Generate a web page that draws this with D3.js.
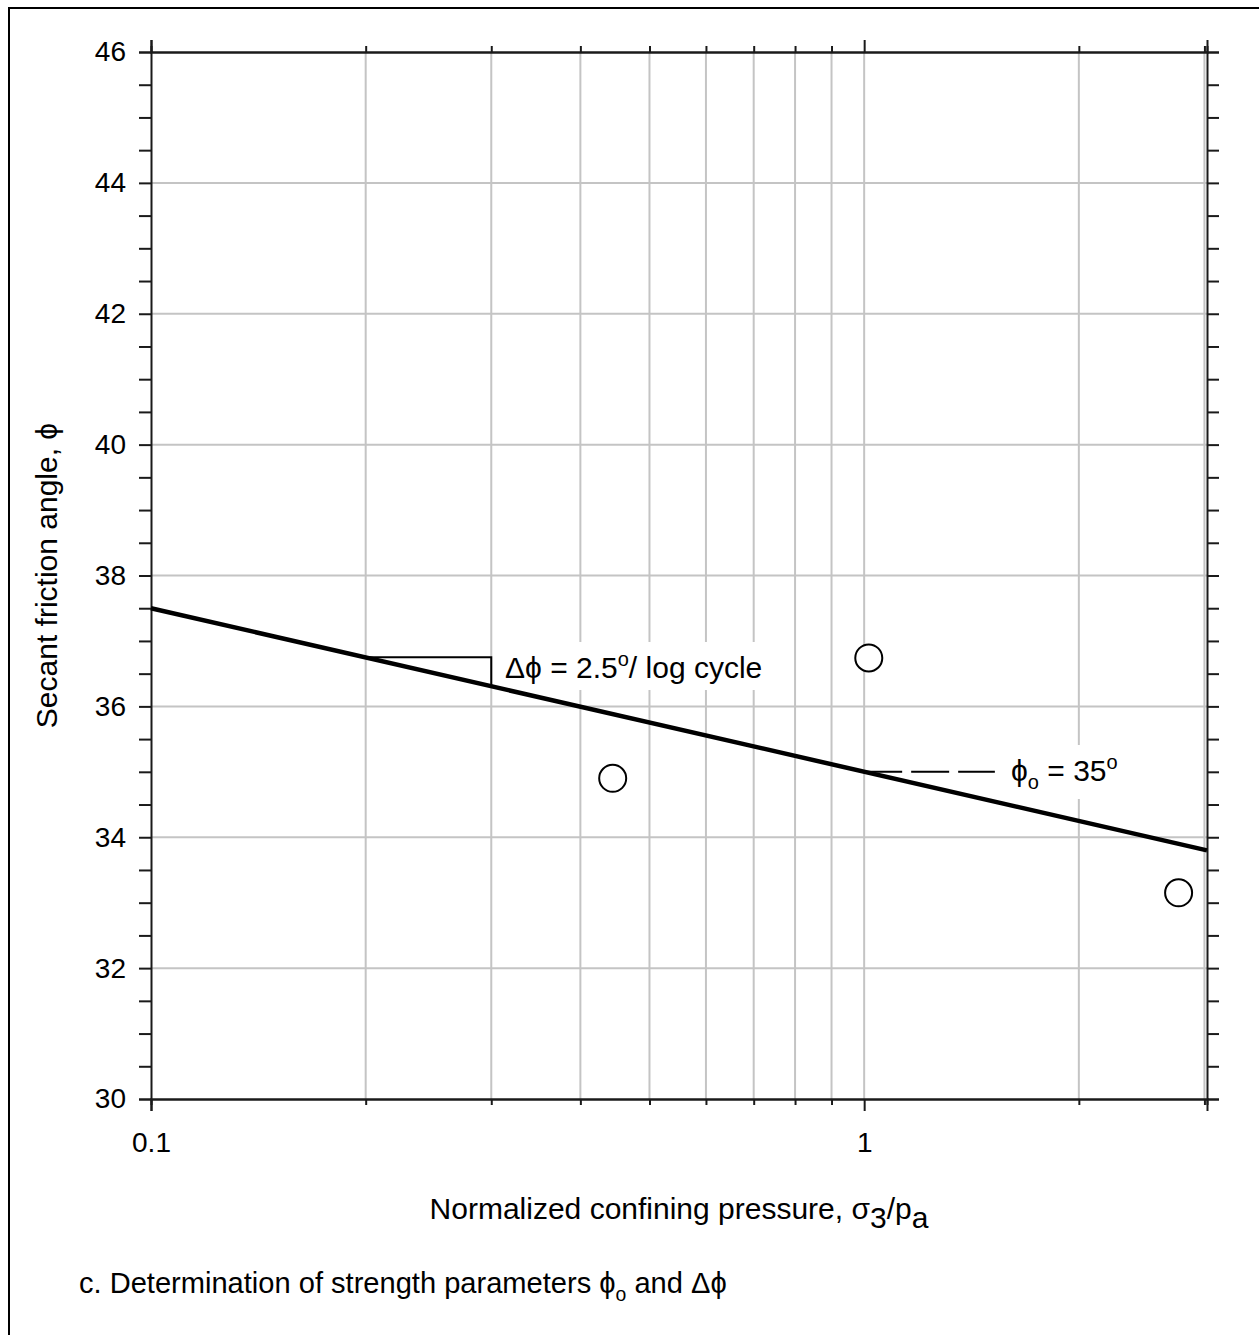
<!DOCTYPE html>
<html>
<head>
<meta charset="utf-8">
<script src="https://cdn.jsdelivr.net/npm/d3@7"></script>
<style>
  html, body { margin: 0; padding: 0; background: #fff; }
  svg { display: block; }
  text { font-family: "Liberation Sans", Arial, sans-serif; fill: #000; }
</style>
</head>
<body>
<svg id="chart" width="1259" height="1335"></svg>
<script>
// Measured points: normalized confining pressure and secant friction angle
const pressures = [0.444, 1.015, 2.76];
const angles = [34.90, 36.74, 33.15];

// Strength parameters of the fitted line
const phi0 = 35;      // friction angle at sigma3/pa = 1
const deltaPhi = 2.5; // drop per log cycle

// Fitted line end points and the slope triangle (pressure, angle)
const fitPressures = [0.1, 3.025];
const fitAngles = [37.5, 33.80];
const trianglePressures = [0.2, 0.3, 0.3];
const triangleAngles = [36.75, 36.75, 36.31];
// Dashed leader from the fitted line at phi0
const leaderPressures = [1, 1.525];

// Axis ticks
const xMajorTicks = [0.1, 1];
const xMinorTicks = [0.2, 0.3, 0.4, 0.5, 0.6, 0.7, 0.8, 0.9, 2, 3];
const xGridTicks = [0.2, 0.3, 0.4, 0.5, 0.6, 0.7, 0.8, 0.9, 1, 2, 3];
const yLabelTicks = [30, 32, 34, 36, 38, 40, 42, 44, 46];
const yAllTicks = d3.range(30, 46.001, 0.5);
const yGridTicks = [32, 34, 36, 38, 40, 42, 44];

const svg = d3.select("#chart");
const W = 1259, H = 1335;
const m = { left: 151, top: 52, right: 1207, bottom: 1099 };
const FS = 30;

// Page frame (left and top edges)
svg.append("line").attr("x1", 9).attr("x2", 9).attr("y1", 7).attr("y2", H)
  .attr("stroke", "#000").attr("stroke-width", 2);
svg.append("line").attr("x1", 8).attr("x2", W).attr("y1", 8).attr("y2", 8)
  .attr("stroke", "#000").attr("stroke-width", 2);

const x = d3.scaleLog().domain([0.1, 3.025]).range([m.left, m.right]);
const y = d3.scaleLinear().domain([30, 46]).range([m.bottom, m.top]);

// Grid
const grid = svg.append("g").attr("stroke", "#c4c4c4").attr("stroke-width", 2);
grid.selectAll("line.v").data(xGridTicks).join("line")
  .attr("x1", d => x(d)).attr("x2", d => x(d))
  .attr("y1", m.top).attr("y2", m.bottom);
grid.selectAll("line.h").data(yGridTicks).join("line")
  .attr("x1", m.left).attr("x2", m.right)
  .attr("y1", d => y(d)).attr("y2", d => y(d));

function styleAxis(g) {
  g.select(".domain").attr("stroke", "#1a1a1a").attr("stroke-width", 2);
  g.selectAll(".tick line").attr("stroke", "#1a1a1a").attr("stroke-width", 2);
  g.selectAll(".tick text").attr("font-size", 28).attr("font-family", "Liberation Sans, Arial, sans-serif").attr("fill", "#000");
}

// Left axis
svg.append("g").attr("transform", `translate(${m.left},0)`)
  .call(d3.axisLeft(y).tickValues(yAllTicks).tickSize(12).tickPadding(13)
    .tickFormat(d => yLabelTicks.includes(d) ? d3.format("d")(d) : ""))
  .call(styleAxis);
// Right axis
svg.append("g").attr("transform", `translate(${m.right},0)`)
  .call(d3.axisRight(y).tickValues(yAllTicks).tickSize(12).tickFormat(""))
  .call(styleAxis);
// Bottom axis
svg.append("g").attr("transform", `translate(0,${m.bottom})`)
  .call(d3.axisBottom(x).tickValues(xMinorTicks).tickSize(6).tickFormat(""))
  .call(styleAxis);
svg.append("g").attr("transform", `translate(0,${m.bottom})`)
  .call(d3.axisBottom(x).tickValues(xMajorTicks).tickSize(12).tickPadding(21)
    .tickFormat(d => d === 1 ? "1" : "0.1"))
  .call(styleAxis);
// Top axis
svg.append("g").attr("transform", `translate(0,${m.top})`)
  .call(d3.axisTop(x).tickValues(xMinorTicks).tickSize(6).tickFormat(""))
  .call(styleAxis);
svg.append("g").attr("transform", `translate(0,${m.top})`)
  .call(d3.axisTop(x).tickValues(xMajorTicks).tickSize(12).tickFormat(""))
  .call(styleAxis);

// Text label with a white backing box
function boxedLabel(px, py, build, pad) {
  const g = svg.append("g");
  const rect = g.append("rect").attr("fill", "#fff");
  const t = g.append("text").attr("x", px).attr("y", py).attr("font-size", FS);
  build(t);
  const b = t.node().getBBox();
  rect.attr("x", b.x - pad[0]).attr("y", b.y - pad[1])
    .attr("width", b.width + 2 * pad[0]).attr("height", b.height + 2 * pad[1]);
  return g;
}

const pathLine = d3.line().x(d => x(d[0])).y(d => y(d[1]));

// Slope triangle
svg.append("path")
  .datum(trianglePressures.map((p, i) => [p, triangleAngles[i]]))
  .attr("d", pathLine).attr("fill", "none").attr("stroke", "#000").attr("stroke-width", 2);

// Dashed leader at phi0
svg.append("path")
  .datum(leaderPressures.map(p => [p, phi0]))
  .attr("d", pathLine).attr("fill", "none")
  .attr("stroke", "#000").attr("stroke-width", 2).attr("stroke-dasharray", "38,9");

// Labels
boxedLabel(505, 678, t => {
  t.append("tspan").text("Δϕ = " + deltaPhi);
  t.append("tspan").attr("font-size", 20).attr("dy", -12).text("o");
  t.append("tspan").attr("dy", 12).text("/ log cycle");
}, [8, 6]);

boxedLabel(1011, 781, t => {
  t.append("tspan").text("ϕ");
  t.append("tspan").attr("font-size", 20).attr("dy", 8).text("o");
  t.append("tspan").attr("dy", -8).text(" = " + phi0);
  t.append("tspan").attr("font-size", 20).attr("dy", -12).text("o");
}, [8, 6]);

// Fitted line
svg.append("path")
  .datum(fitPressures.map((p, i) => [p, fitAngles[i]]))
  .attr("d", pathLine).attr("fill", "none").attr("stroke", "#000").attr("stroke-width", 4.5);

// Data points
svg.selectAll("circle.pt").data(pressures.map((p, i) => [p, angles[i]])).join("circle")
  .attr("cx", d => x(d[0])).attr("cy", d => y(d[1])).attr("r", 13.5)
  .attr("fill", "#fff").attr("stroke", "#000").attr("stroke-width", 2);

// Axis titles
const xt = svg.append("text").attr("x", (m.left + m.right) / 2).attr("y", 1219)
  .attr("text-anchor", "middle").attr("font-size", FS);
xt.append("tspan").text("Normalized confining pressure, σ");
xt.append("tspan").attr("dy", 9).text("3");
xt.append("tspan").attr("dy", -9).text("/p");
xt.append("tspan").attr("dy", 9).text("a");

svg.append("text")
  .attr("transform", `translate(57,${(m.top + m.bottom) / 2}) rotate(-90)`)
  .attr("text-anchor", "middle").attr("font-size", FS)
  .text("Secant friction angle, ϕ");

// Caption, set slightly condensed
const capG = svg.append("g");
const cap = capG.append("text").attr("x", 0).attr("y", 0).attr("font-size", FS);
cap.append("tspan").text("c. Determination of strength parameters ϕ");
cap.append("tspan").attr("font-size", 20).attr("dy", 8).text("o");
cap.append("tspan").attr("dy", -8).text(" and Δϕ");
const capW = cap.node().getBBox().width;
capG.attr("transform", `translate(79,1293) scale(${648 / capW},1)`);
</script>
</body>
</html>
